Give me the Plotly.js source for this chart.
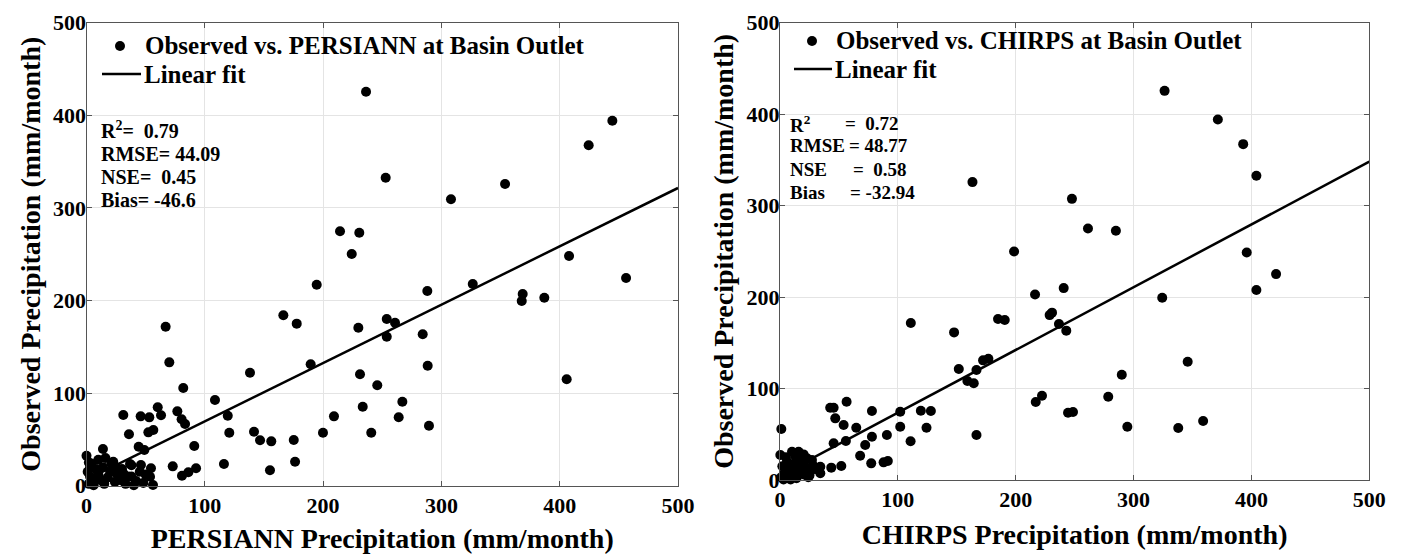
<!DOCTYPE html>
<html>
<head>
<meta charset="utf-8">
<script src="https://cdn.plot.ly/plotly-3.0.1.min.js"></script>
<style>html,body{margin:0;padding:0;background:#fff;}#chart{width:1403px;height:554px;}</style>
</head>
<body>
<div id="chart"></div>
<script>
// ---- Data ----
const persiannX = [236.3,252.9,308.1,353.8,424.5,444.5,214.3,230.6,224.2,194.6,288.1,326.5,407.9,456.1,368.7,367.9,387.0,229.8,253.8,260.8,253.8,284.2,189.5,288.4,231.2,245.8,405.9,267.0,233.5,209.2,263.9,199.9,240.7,289.5,66.9,70.0,81.8,138.2,166.4,177.7,108.6,119.4,120.7,141.6,146.7,156.2,175.2,176.3,155.1,116.2,31.1,45.8,53.1,60.2,63.0,35.9,52.3,56.5,76.8,80.4,83.3,91.1,44.1,48.9,13.9,72.9,80.7,86.1,92.6,54.5,53.7,56.2,46.0,36.8,31.1,22.6,0.0,2,4,1,3,5,2,8,10,12,14,15,18,20,21,24,26,29,30,33,35,38,38,42,45,48,50,6,10,16,3,7,40,25];
const persiannObs = [425.5,332.6,309.3,325.8,367.6,394.2,274.8,273.2,250.2,217.1,210.3,217.8,248.1,224.3,207.0,199.5,203.0,170.6,180.0,176.0,160.9,163.5,131.1,129.6,120.3,108.4,114.9,90.7,85.3,74.9,73.9,57.2,57.2,64.8,171.7,133.2,105.5,122.0,184.0,175.0,92.5,75.6,57.2,58.3,49.0,47.9,49.4,25.9,16.6,23.4,76.3,74.9,73.8,84.7,76.0,55.5,57.6,60.2,80.3,71.7,66.6,42.9,42.1,38.6,39.6,20.9,10.8,14.5,18.8,18.8,9.7,0.8,22.4,23.4,13.4,25.9,32.4,25,24,15,10,5,2,18,12,6,20,2,9,15,24,4,12,6,18,2,10,22,10,5,15,3,12,0.5,28,30,20,8,0.5,20];

const chirpsX = [1.1,42.6,45.5,46.9,54.0,56.5,64.7,78.0,90.7,78.0,72.3,55.9,45.5,68.0,77.4,87.9,91.5,52.0,43.5,34.2,34.2,102.0,102.0,110.8,111.0,119.5,128.0,124.3,147.7,151.7,166.7,159.0,164.4,172.3,176.8,166.7,163.3,185.0,190.7,198.6,216.4,217.0,222.3,228.8,230.8,236.7,240.7,242.9,244.4,248.6,247.7,261.3,278.5,285.0,290.0,294.7,324.3,326.3,337.9,345.9,359.0,371.5,393.0,396.0,404.2,404.2,420.9,0.3,10.2,15.8,22.9,27.1,2,4,1,6,8,10,12,14,16,18,20,22,24,26,28,5,3,9,13,17,20,25,30,7,11];
const chirpsObs = [55.7,79.0,79.0,67.4,60.1,85.6,57.2,75.4,49.2,47.3,38.3,42.6,40.1,26.6,18.2,19.3,20.8,15.3,13.5,14.5,7.3,74.6,58.3,42.3,171.6,75.8,75.4,57.2,161.4,121.3,120.2,108.2,105.7,130.8,132.6,49.2,325.7,176.0,174.9,249.9,202.9,85.2,92.1,180.3,183.0,170.5,209.8,163.3,73.6,74.4,307.4,275.0,91.1,272.6,115.1,58.3,199.3,425.5,56.8,129.3,64.5,394.2,367.2,248.8,332.6,207.7,225.1,27.3,30.9,30.9,23.7,21.9,15,8,3,20,12,5,18,2,10,22,6,14,3,10,16,25,0.5,0.5,26,15,28,5,12,4,9];

const persiannFitX = [0, 500];
const persiannFitY = [6.5, 321.5];
const chirpsFitX = [0, 500];
const chirpsFitY = [5.0, 348.0];

const tickVals = [0, 100, 200, 300, 400, 500];
const tickText = ['0', '100', '200', '300', '400', '500'];

const persiannLegend = ['Observed vs. PERSIANN at Basin Outlet', 'Linear fit'];
const chirpsLegend = ['Observed vs. CHIRPS at Basin Outlet', 'Linear fit'];
const persiannStats = ['R<sup>2</sup>=\u00a0\u00a00.79', 'RMSE=\u00a044.09', 'NSE=\u00a0\u00a00.45', 'Bias=\u00a0-46.6'];
const chirpsStatLabels = ['R<sup>2</sup>', 'RMSE', 'NSE', 'Bias'];
const chirpsStatValues = ['=\u00a0\u00a00.72', '=\u00a048.77', '=\u00a0\u00a00.58', '=\u00a0-32.94'];

// ---- Styling / layout ----
const W = 1403, H = 554;
const FONT = 'Liberation Serif, Times New Roman, serif';
const px = v => v / W;
const py = v => 1 - v / H;

const traces = [
  {x: persiannX, y: persiannObs, type: 'scatter', mode: 'markers', name: persiannLegend[0],
   marker: {color: '#000', size: 10}, cliponaxis: false, xaxis: 'x', yaxis: 'y', showlegend: false},
  {x: persiannFitX, y: persiannFitY, type: 'scatter', mode: 'lines', name: persiannLegend[1],
   line: {color: '#000', width: 2.5}, xaxis: 'x', yaxis: 'y', showlegend: false},
  {x: chirpsX, y: chirpsObs, type: 'scatter', mode: 'markers', name: chirpsLegend[0],
   marker: {color: '#000', size: 10}, cliponaxis: false, xaxis: 'x2', yaxis: 'y2', showlegend: false},
  {x: chirpsFitX, y: chirpsFitY, type: 'scatter', mode: 'lines', name: chirpsLegend[1],
   line: {color: '#000', width: 2.5}, xaxis: 'x2', yaxis: 'y2', showlegend: false}
];

function axis(domain, anchor, titleText, standoff, isY) {
  return {
    domain: domain, anchor: anchor, range: [0, 500], autorange: false,
    tickvals: tickVals, ticktext: tickText,
    ticks: 'inside', ticklen: 5, tickcolor: '#555', tickwidth: 1,
    ticklabelstandoff: isY ? -5 : 0,
    showline: true, linecolor: '#555', linewidth: 1, mirror: 'ticks',
    showgrid: true, gridcolor: '#e4e4e4', gridwidth: 1, zeroline: false,
    tickfont: {family: FONT, size: 22, color: '#000', weight: 'bold'},
    title: {text: titleText, font: {family: FONT, size: 28, color: '#000', weight: 'bold'}, standoff: standoff},
    fixedrange: true
  };
}

const annotations = [];
const shapes = [];
function txt(x, y, text, size) {
  annotations.push({xref: 'paper', yref: 'paper', x: px(x), y: py(y), xanchor: 'left', yanchor: 'middle',
    text: text, showarrow: false, font: {family: FONT, size: size, color: '#000', weight: 'bold'}});
}
function legendEntries(labels, mx, my, lx0, lx1, ly, tx) {
  shapes.push({type: 'circle', xref: 'paper', yref: 'paper', xsizemode: 'pixel', ysizemode: 'pixel',
    xanchor: px(mx), yanchor: py(my), x0: -5, x1: 5, y0: -5, y1: 5,
    fillcolor: '#000', line: {width: 0}});
  shapes.push({type: 'line', xref: 'paper', yref: 'paper', x0: px(lx0), x1: px(lx1), y0: py(ly), y1: py(ly),
    line: {color: '#000', width: 2.5}});
  txt(tx, my, labels[0], 25);
  txt(tx - 1, ly, labels[1], 25);
}
legendEntries(persiannLegend, 120, 46, 102, 141, 74, 143);
legendEntries(chirpsLegend, 812, 41, 794, 832, 69, 834);

const leftRows = [130, 154, 177, 200];
persiannStats.forEach((t, i) => txt(99, leftRows[i], t, 20));
const rightRows = [124, 146, 169, 192];
const rightValX = [843, 847, 851, 848];
chirpsStatLabels.forEach((t, i) => {
  txt(788, rightRows[i], t, 19);
  txt(rightValX[i], rightRows[i], chirpsStatValues[i], 19);
});

const layout = {
  width: W, height: H,
  margin: {l: 0, r: 0, t: 0, b: 0},
  paper_bgcolor: '#fff', plot_bgcolor: '#fff',
  xaxis: axis([px(86.5), px(678)], 'y', 'PERSIANN Precipitation (mm/month)', 12, false),
  yaxis: axis([py(485.7), py(22.7)], 'x', 'Observed Precipitation (mm/month)', 4, true),
  xaxis2: axis([px(780), px(1369.3)], 'y2', 'CHIRPS Precipitation (mm/month)', 12, false),
  yaxis2: axis([py(480), py(22.7)], 'x2', 'Observed Precipitation (mm/month)', 4, true),
  annotations: annotations,
  shapes: shapes,
  showlegend: false
};

Plotly.newPlot('chart', traces, layout, {displayModeBar: false, staticPlot: true});
</script>
</body>
</html>
